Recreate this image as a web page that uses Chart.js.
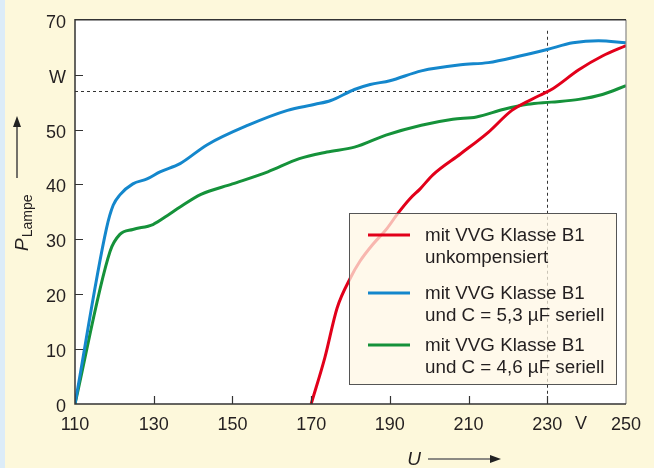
<!DOCTYPE html>
<html>
<head>
<meta charset="utf-8">
<script src="https://cdn.jsdelivr.net/npm/chart.js@4/dist/chart.umd.min.js"></script>
<style>
  html,body{margin:0;padding:0;background:#fdf8db;}
  canvas{display:block;}
</style>
</head>
<body>
<canvas id="myChart" width="654" height="468"></canvas>
<script>
// voltage U (V) and lamp power P (W)
var redU   = [170, 173.5, 176.6, 180, 182.4, 185.7, 189.3, 191.8, 195.1, 197.7, 201, 208, 215, 221, 228, 231.5, 238, 244, 250];
var redP   = [0, 8.5, 17.5, 23, 26, 29.1, 32, 34.5, 37.4, 39.2, 41.8, 45.6, 49.5, 53.5, 56.2, 57.5, 60.9, 63.4, 65.3];
var blueU  = [110, 118, 119.7, 121.4, 124.7, 128.3, 131.6, 136.7, 143.5, 154, 164, 171, 175, 181, 185, 190, 198, 208, 215, 223, 230, 236.5, 243, 250];
var blueP  = [0, 32, 36.2, 38.1, 40.1, 41, 42.3, 43.8, 47.2, 50.8, 53.5, 54.6, 55.3, 57.3, 58.2, 58.9, 60.7, 61.8, 62.2, 63.4, 64.6, 65.8, 66.2, 65.8];
var greenU = [110, 118.9, 121.4, 124.7, 129.8, 133.4, 136.7, 142, 150, 159, 167, 174, 181, 189, 198, 206, 212, 219, 225, 231, 238, 244, 250];
var greenP = [0, 27.8, 30.9, 31.8, 32.7, 34.3, 35.9, 38.2, 40.1, 42.3, 44.7, 45.9, 46.8, 49, 50.8, 51.9, 52.3, 53.7, 54.6, 55, 55.5, 56.4, 58];

var seriesLabels = [
  ["mit VVG Klasse B1", "unkompensiert"],
  ["mit VVG Klasse B1", "und C = 5,3 \u00B5F seriell"],
  ["mit VVG Klasse B1", "und C = 4,6 \u00B5F seriell"]
];
var xTicks = [110, 130, 150, 170, 190, 210, 230, 250];
var yTicks = [0, 10, 20, 30, 40, 50, 60, 70];
var yTickLabels = ["0", "10", "20", "30", "40", "50", "W", "70"];
var markU = 230, markP = 57;

var FONT = "'Liberation Sans', Arial, sans-serif";
var INK = "#231f20";

function pts(xs, ys){
  return xs.map(function(x, i){ return {x: x, y: ys[i]}; });
}

var decor = {
  id: 'decor',
  beforeDraw: function(chart){
    var c = chart.ctx, a = chart.chartArea;
    c.save();
    c.fillStyle = '#fdf8db';
    c.fillRect(0, 0, chart.width, chart.height);
    c.fillStyle = '#dcecf8';
    c.fillRect(0, 0, 5, chart.height);
    c.fillStyle = '#ffffff';
    c.fillRect(a.left, a.top, a.right - a.left, a.bottom - a.top);
    c.restore();
  },
  beforeDatasetsDraw: function(chart){
    var c = chart.ctx, xs = chart.scales.x, ys = chart.scales.y;
    var px = Math.round(xs.getPixelForValue(markU)) + 0.5;
    var py = Math.round(ys.getPixelForValue(markP)) + 0.5;
    c.save();
    c.strokeStyle = '#333';
    c.lineWidth = 1;
    c.setLineDash([3, 3]);
    c.beginPath();
    c.moveTo(xs.getPixelForValue(110), py);
    c.lineTo(px, py);
    c.moveTo(px, ys.getPixelForValue(68));
    c.lineTo(px, ys.getPixelForValue(0));
    c.stroke();
    c.restore();
  },
  afterDatasetsDraw: function(chart){
    // legend box, semi transparent over the curves
    var c = chart.ctx;
    var bx = 349, by = 213, bw = 267, bh = 171;
    c.save();
    c.fillStyle = 'rgba(255,247,228,0.74)';
    c.fillRect(bx, by, bw, bh);
    c.strokeStyle = '#555';
    c.lineWidth = 1;
    c.strokeRect(bx + 0.5, by + 0.5, bw, bh);
    var rowY = [235, 293, 345];
    chart.data.datasets.forEach(function(ds, i){
      c.strokeStyle = ds.borderColor;
      c.lineWidth = 3;
      c.beginPath();
      c.moveTo(368, rowY[i]);
      c.lineTo(410, rowY[i]);
      c.stroke();
      c.fillStyle = INK;
      c.font = '18.8px ' + FONT;
      c.textBaseline = 'middle';
      c.textAlign = 'left';
      seriesLabels[i].forEach(function(t, j){
        c.fillText(t, 425, rowY[i] + 1 + j * 22);
      });
    });
    c.restore();
  },
  afterDraw: function(chart){
    var c = chart.ctx, a = chart.chartArea, xs = chart.scales.x, ys = chart.scales.y;
    c.save();
    // frame
    c.strokeStyle = '#888';
    c.lineWidth = 1.2;
    c.beginPath();
    c.moveTo(a.right, a.top);
    c.lineTo(a.right, a.bottom);
    c.stroke();
    c.strokeStyle = '#333';
    c.lineWidth = 1.5;
    c.beginPath();
    c.moveTo(a.right, a.top);
    c.lineTo(a.left, a.top);
    c.lineTo(a.left, a.bottom);
    c.lineTo(a.right, a.bottom);
    c.stroke();
    // inner tick marks
    c.lineWidth = 1.2;
    c.beginPath();
    xTicks.slice(1, -1).forEach(function(v){
      var x = Math.round(xs.getPixelForValue(v)) + 0.5;
      c.moveTo(x, a.bottom);
      c.lineTo(x, a.bottom - 8);
    });
    yTicks.slice(1, -1).forEach(function(v){
      var y = Math.round(ys.getPixelForValue(v)) + 0.5;
      c.moveTo(a.left, y);
      c.lineTo(a.left + 8, y);
    });
    c.stroke();

    // unit V on the x axis
    c.fillStyle = INK;
    c.font = '18px ' + FONT;
    c.textAlign = 'center';
    c.textBaseline = 'middle';
    c.fillText('V', 581, 424);

    // x title: U ->
    c.font = 'italic 19px ' + FONT;
    c.fillText('U', 414, 460);
    c.strokeStyle = '#666';
    c.lineWidth = 1.5;
    c.beginPath();
    c.moveTo(428, 459);
    c.lineTo(492, 459);
    c.stroke();
    c.fillStyle = '#222';
    c.beginPath();
    c.moveTo(501, 459);
    c.lineTo(490, 455);
    c.lineTo(490, 463);
    c.closePath();
    c.fill();

    // y title: P_Lampe with arrow
    c.strokeStyle = '#444';
    c.beginPath();
    c.moveTo(17, 178);
    c.lineTo(17, 125);
    c.stroke();
    c.fillStyle = '#222';
    c.beginPath();
    c.moveTo(17, 116);
    c.lineTo(13, 127);
    c.lineTo(21, 127);
    c.closePath();
    c.fill();

    c.translate(28, 251);
    c.rotate(-Math.PI / 2);
    c.textAlign = 'left';
    c.textBaseline = 'alphabetic';
    c.fillStyle = INK;
    c.font = 'italic 19px ' + FONT;
    c.fillText('P', 0, 0);
    var w = c.measureText('P').width;
    c.font = '14px ' + FONT;
    c.fillText('Lampe', w + 1, 4);
    c.restore();
  }
};

var ctx = document.getElementById('myChart');
var myChart = new Chart(ctx, {
  type: 'line',
  data: {
    datasets: [
      {label: seriesLabels[0].join(' '), data: pts(redU, redP), borderColor: '#e2001a'},
      {label: seriesLabels[1].join(' '), data: pts(blueU, blueP), borderColor: '#1487cc'},
      {label: seriesLabels[2].join(' '), data: pts(greenU, greenP), borderColor: '#15923a'}
    ].map(function(d){
      d.borderWidth = 3;
      d.pointRadius = 0;
      d.fill = false;
      d.cubicInterpolationMode = 'monotone';
      return d;
    })
  },
  options: {
    responsive: false,
    devicePixelRatio: 1,
    animation: false,
    layout: {padding: {left: 0, top: 17, right: 28, bottom: 0}},
    plugins: {legend: {display: false}, tooltip: {enabled: false}},
    scales: {
      x: {
        type: 'linear', min: 110, max: 250,
        afterFit: function(s){ s.height = 64; },
        afterBuildTicks: function(s){ s.ticks = xTicks.map(function(v){ return {value: v}; }); },
        grid: {display: false, drawTicks: false},
        border: {display: false},
        ticks: {color: INK, font: {family: FONT, size: 18}, padding: 10, maxRotation: 0, autoSkip: false}
      },
      y: {
        min: 0, max: 70,
        afterFit: function(s){ s.width = 75; },
        afterBuildTicks: function(s){ s.ticks = yTicks.map(function(v){ return {value: v}; }); },
        grid: {display: false, drawTicks: false},
        border: {display: false},
        ticks: {
          color: INK, font: {family: FONT, size: 18}, padding: 9, autoSkip: false, labelOffset: 3,
          callback: function(v){ return yTickLabels[yTicks.indexOf(v)]; }
        }
      }
    }
  },
  plugins: [decor]
});
</script>
</body>
</html>
